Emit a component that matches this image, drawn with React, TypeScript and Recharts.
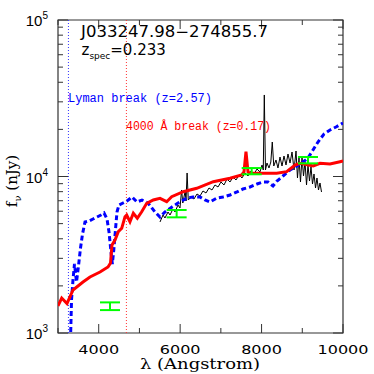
import React from "react";
import {
  ComposedChart,
  Line,
  Scatter,
  ErrorBar,
  XAxis,
  YAxis,
  ReferenceLine,
  ReferenceArea,
} from "recharts";

// layout of the 374x374 plot
const W = 374;
const H = 374;
const Y_AXIS_W = 58;
const X_AXIS_H = 41;
const MARGIN = { top: 20, right: 31, bottom: 0, left: 0 };
const PLOT_W = W - Y_AXIS_W - MARGIN.right;
const PLOT_H = H - MARGIN.top - X_AXIS_H;

// axes
const xTicks = [3000, 4000, 5000, 6000, 7000, 8000, 9000, 10000];
const xTickLabels = [4000, 6000, 8000, 10000];
const yTicks = [
  1000, 2000, 3000, 4000, 5000, 6000, 7000, 8000, 9000,
  10000, 20000, 30000, 40000, 50000, 60000, 70000, 80000, 90000, 100000,
];
const yTickLabels = [1000, 10000, 100000];

// break positions (Angstrom)
const lymanBreak = 3256;
const balmerBreak = 4680;

// observed spectrum (black)
const specLambda = [
  5505, 5579, 5628, 5702, 5751, 5824, 5874, 5947, 5996, 6036, 6065, 6124, 6144, 6171, 6200,
  6267, 6340, 6414, 6488, 6561, 6635, 6709, 6782, 6856, 6930, 7003, 7077, 7151, 7225, 7298,
  7372, 7446, 7519, 7593, 7667, 7740, 7814, 7888, 7961, 8011, 8042, 8067, 8096, 8133, 8182,
  8227, 8263, 8300, 8354, 8403, 8453, 8502, 8551, 8600, 8649, 8699, 8748, 8797, 8846, 8882,
  8919, 8956, 8993, 9030, 9067, 9104, 9140, 9177, 9214, 9251, 9288, 9325, 9361, 9398, 9435,
  9472,
];
const specFlux = [
  5121, 5675, 5430, 5932, 5675, 6200, 5932, 6575, 6291, 8200, 6771, 8080, 6972, 10529, 7075,
  7396, 7181, 7731, 7506, 8080, 7846, 8445, 8200, 8826, 8570, 9223, 8826, 9638, 9223, 9927,
  9497, 10223, 9781, 10529, 10074, 10842, 10375, 11166, 10685, 11846, 11004, 33180, 11004, 12200, 11333,
  12380, 16610, 11670, 12748, 11333, 13320, 11670, 13520, 11846, 13925, 12200, 14340, 11004, 14550, 9781,
  13130, 9223, 13320, 10074, 12380, 8826, 11846, 9359, 11500, 8957, 10375, 8445, 9781, 8200, 9090,
  7962,
];

// best-fit template at z=0.17 (red)
const lowzLambda = [
  3000, 3091, 3221, 3368, 3614, 3786, 4032, 4228, 4290, 4326, 4400, 4481, 4565, 4646, 4687,
  4768, 4850, 4948, 5056, 5178, 5341, 5505, 5670, 5792, 6078, 6407, 6814, 7225, 7512, 7568,
  7617, 7667, 7716, 8125, 8371, 8617, 8821, 8944, 9270, 9435, 9681, 9926, 10000,
];
const lowzFlux = [
  1488, 1673, 1543, 1883, 2118, 2279, 2454, 2641, 2802, 3650, 3930, 4438, 4667, 5535, 5675,
  5142, 5818, 5406, 5957, 6740, 7075, 7255, 6902, 7430, 7998, 8408, 9267, 9738, 10222, 10685,
  14405, 10685, 10481, 10481, 10481, 10732, 11844, 12143, 11672, 12143, 12017, 12436, 12560,
];

// alternative template at z=2.57 (blue dashed)
const highzLambda = [
  3282, 3332, 3368, 3405, 3454, 3503, 3553, 3602, 3663, 3761, 3860, 3958, 4056, 4130, 4204,
  4253, 4302, 4334, 4370, 4407, 4449, 4498, 4596, 4695, 4818, 4940, 5063, 5210, 5382, 5505,
  5628, 5800, 5947, 6168, 6316, 6488, 6610, 6733, 6905, 7053, 7225, 7396, 7544, 7716, 7888,
  8035, 8158, 8281, 8379, 8526, 8699, 8870, 9018, 9140, 9263, 9386, 9533, 9681, 9828, 10000,
];
const highzFlux = [
  501, 1625, 2182, 2760, 2118, 2680, 3493, 4291, 5121, 5195, 5351, 5510, 5675, 5845, 5351,
  4419, 3293, 2760, 3392, 4419, 5932, 6575, 6771, 6972, 7396, 6871, 7075, 6771, 5932, 5510,
  5932, 6385, 6771, 7288, 7396, 7396, 7075, 6871, 7288, 7396, 7617, 7962, 8320, 8570, 8957,
  9223, 9223, 8697, 9359, 10074, 11004, 11670, 12380, 13130, 14770, 16610, 18690, 19820, 20720, 21980,
];

// broad-band photometry (green)
const photLambda = [4277, 5914, 7757, 9140];
const photFlux = [1485, 5796, 10827, 12729];
const photErr = [84, 313, 497, 596];

const spectrum = specLambda.map((x, i) => ({ x, f: specFlux[i] }));
const lowz = lowzLambda.map((x, i) => ({ x, f: lowzFlux[i] }));
const highz = highzLambda.map((x, i) => ({ x, f: highzFlux[i] }));
const phot = photLambda.map((x, i) => ({ x, f: photFlux[i], err: photErr[i] }));

const AXIS_COLOR = "#333";

function XTick(props: any) {
  const { x, y, payload } = props;
  const v = payload.value as number;
  const len = v % 2000 === 0 ? 9 : 5;
  const top = y - PLOT_H;
  const s = String(v);
  return (
    <g>
      <line x1={x} y1={y} x2={x} y2={y - len} stroke={AXIS_COLOR} />
      <line x1={x} y1={top} x2={x} y2={top + len} stroke={AXIS_COLOR} />
      {xTickLabels.includes(v) && (
        <text
          x={x}
          y={y + 21}
          textAnchor="middle"
          fontFamily="DejaVu Sans"
          fontSize={12.5}
          textLength={s.length * 10.2}
          lengthAdjust="spacingAndGlyphs"
          fill="#000"
        >
          {s}
        </text>
      )}
    </g>
  );
}

function YTick(props: any) {
  const { x, y, payload } = props;
  const v = payload.value as number;
  const major = yTickLabels.includes(v);
  const len = major ? 10 : 5;
  const right = x + PLOT_W;
  return (
    <g>
      <line x1={x} y1={y} x2={x + len} y2={y} stroke={AXIS_COLOR} />
      <line x1={right} y1={y} x2={right - len} y2={y} stroke={AXIS_COLOR} />
      {major && (
        <text x={x - 10} y={y + 6} textAnchor="end" fontFamily="Liberation Sans" fontSize={15} fill="#000">
          10
          <tspan dy={-7} fontSize={10}>
            {Math.round(Math.log10(v))}
          </tspan>
        </text>
      )}
    </g>
  );
}

const hiddenPoint = () => <g />;

export default function App() {
  return (
    <div style={{ position: "absolute", left: 0, top: 0, width: W, height: H, background: "#fff" }}>
      <ComposedChart width={W} height={H} margin={MARGIN}>
        <XAxis
          type="number"
          dataKey="x"
          domain={[3000, 10000]}
          ticks={xTicks}
          interval={0}
          height={X_AXIS_H}
          tickSize={0}
          tickMargin={0}
          tickLine={false}
          axisLine={false}
          tick={<XTick />}
          allowDataOverflow
        />
        <YAxis
          type="number"
          scale="log"
          domain={[1000, 100000]}
          ticks={yTicks}
          interval={0}
          width={Y_AXIS_W}
          tickSize={0}
          tickMargin={0}
          tickLine={false}
          axisLine={false}
          tick={<YTick />}
          allowDataOverflow
        />

        <ReferenceLine x={lymanBreak} stroke="#3333ff" strokeWidth={1} strokeDasharray="1 2" />
        <ReferenceLine x={balmerBreak} stroke="#ff3333" strokeWidth={1} strokeDasharray="1 2" />

        <Line
          data={spectrum}
          dataKey="f"
          type="linear"
          stroke="#000"
          strokeWidth={1}
          dot={false}
          isAnimationActive={false}
        />
        <Line
          data={highz}
          dataKey="f"
          type="linear"
          stroke="#0000ff"
          strokeWidth={3}
          strokeDasharray="5 3"
          dot={false}
          isAnimationActive={false}
        />
        <Line
          data={lowz}
          dataKey="f"
          type="linear"
          stroke="#ff0000"
          strokeWidth={3}
          dot={false}
          isAnimationActive={false}
        />
        <Scatter data={phot} dataKey="f" shape={hiddenPoint} isAnimationActive={false}>
          <ErrorBar
            dataKey="err"
            direction="y"
            width={10}
            stroke="#00ff00"
            strokeWidth={2}
            isAnimationActive={false}
          />
        </Scatter>

        <ReferenceArea
          x1={3000}
          x2={10000}
          y1={1000}
          y2={100000}
          fill="none"
          fillOpacity={0}
          stroke={AXIS_COLOR}
          strokeWidth={1.2}
        />
      </ComposedChart>

      <svg
        width={W}
        height={H}
        style={{ position: "absolute", left: 0, top: 0, pointerEvents: "none" }}
      >
        <text x={81} y={37} fontFamily="DejaVu Sans" fontSize={15} textLength={187} lengthAdjust="spacingAndGlyphs" fill="#000">
          J033247.98−274855.7
        </text>
        <text x={81.5} y={55} fontFamily="DejaVu Sans" fontSize={15} fill="#000">
          z
          <tspan fontSize={9} dy={4}>spec</tspan>
          <tspan dy={-4}>=0.233</tspan>
        </text>
        <text x={68} y={102} fontFamily="Liberation Mono" fontSize={12} textLength={144} lengthAdjust="spacingAndGlyphs" fill="#0000ff">
          Lyman break (z=2.57)
        </text>
        <text x={126} y={130} fontFamily="Liberation Mono" fontSize={12} textLength={145} lengthAdjust="spacingAndGlyphs" fill="#ff0000">
          4000 Å break (z=0.17)
        </text>
        <text
          transform="translate(17, 181) rotate(-90)"
          textAnchor="middle"
          fontFamily="DejaVu Serif"
          fontSize={15}
          fill="#000"
        >
          f
          <tspan fontSize={10} dy={4}>ν</tspan>
          <tspan dy={-4}> (nJy)</tspan>
        </text>
        <text x={200} y={369} textAnchor="middle" fontFamily="DejaVu Serif" fontSize={14} textLength={120} lengthAdjust="spacingAndGlyphs" fill="#000">
          λ (Angstrom)
        </text>
      </svg>
    </div>
  );
}
